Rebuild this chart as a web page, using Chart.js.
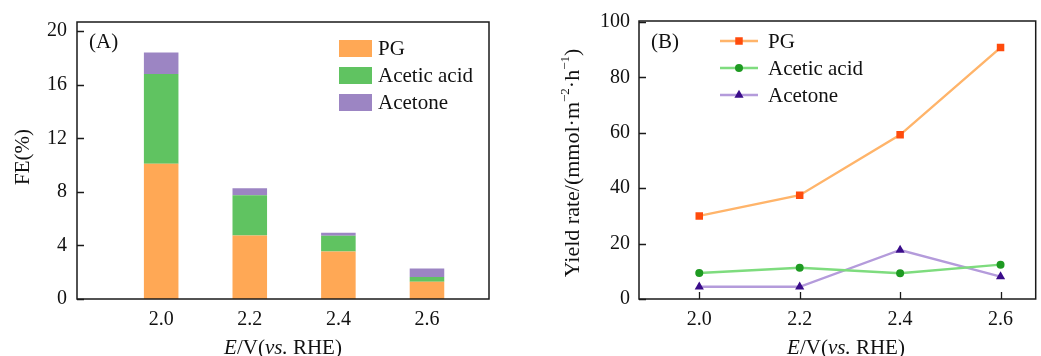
<!DOCTYPE html>
<html><head><meta charset="utf-8">
<script src="https://cdn.jsdelivr.net/npm/chart.js@4/dist/chart.umd.min.js"></script>
<style>
html,body{margin:0;padding:0;background:#fff;}
#wrap{position:relative;width:1041px;height:356px;overflow:hidden;background:#fff;}
#cA{position:absolute;left:0;top:0;}
#cB{position:absolute;left:520px;top:0;}
</style></head><body>
<div id="wrap"><canvas id="cA" width="520" height="356"></canvas><canvas id="cB" width="521" height="356"></canvas></div>
<script>
// ---- data ----
const potentials = [2.0, 2.2, 2.4, 2.6];
const xTickLabels = ['2.0', '2.2', '2.4', '2.6'];
const seriesNames = ['PG', 'Acetic acid', 'Acetone'];
const fePG = [10.1, 4.74, 3.55, 1.28];
const feAcetic = [6.7, 3.0, 1.17, 0.37];
const feAcetone = [1.6, 0.52, 0.22, 0.62];
const feTicks = [0, 4, 8, 12, 16, 20];
const ratePG = [30.0, 37.5, 59.3, 90.8];
const rateAcetic = [9.4, 11.3, 9.3, 12.4];
const rateAcetone = [4.4, 4.4, 17.7, 8.1];
const rateTicks = [0, 20, 40, 60, 80, 100];

// ---- helpers ----
const SERIF = '"Liberation Serif", "Times New Roman", serif';
const f = (sz, st) => (st ? st + ' ' : '') + sz + 'px ' + SERIF;
const INK = '#1a1a1a';
const TICK_SIZE = 20;

function drawRich(ctx, segs, x, y) {
  let w = 0;
  segs.forEach(s => { ctx.font = s.font; s.w = ctx.measureText(s.t).width; w += s.w; });
  let cx = x - w / 2;
  ctx.textAlign = 'left'; ctx.textBaseline = 'alphabetic';
  segs.forEach(s => { ctx.font = s.font; ctx.fillText(s.t, cx, y + (s.dy || 0)); cx += s.w; });
}
function pts(vals) { return potentials.map((x, i) => ({ x: x, y: vals[i] })); }
function fixedTicks(arr) { return scale => { scale.ticks = arr.map(v => ({ value: v })); }; }

function drawMarker(ctx, style, r, x, y, color) {
  ctx.save(); ctx.fillStyle = color; ctx.beginPath();
  if (style === 'rect') { const s = Math.SQRT1_2 * r; ctx.rect(x - s, y - s, 2 * s, 2 * s); }
  else if (style === 'triangle') {
    ctx.moveTo(x, y - r);
    ctx.lineTo(x + Math.sin(2 * Math.PI / 3) * r, y - Math.cos(2 * Math.PI / 3) * r);
    ctx.lineTo(x + Math.sin(4 * Math.PI / 3) * r, y - Math.cos(4 * Math.PI / 3) * r);
    ctx.closePath();
  } else { ctx.arc(x, y, r, 0, Math.PI * 2); }
  ctx.fill(); ctx.restore();
}

function framePlugin(cfg) {
  return {
    id: 'frame',
    beforeDatasetsDraw(chart) {
      const ctx = chart.ctx, a = chart.chartArea;
      ctx.save(); ctx.strokeStyle = INK; ctx.lineWidth = 1.3;
      const xs = chart.scales.x, ys = chart.scales.y;
      ctx.beginPath();
      xs.ticks.forEach(t => { const px = Math.round(xs.getPixelForValue(t.value)) + 0.5; ctx.moveTo(px, a.bottom); ctx.lineTo(px, a.bottom - 7); });
      ys.ticks.forEach(t => { const py = Math.round(ys.getPixelForValue(t.value)) + 0.5; ctx.moveTo(a.left, py); ctx.lineTo(a.left + 7, py); });
      ctx.stroke(); ctx.restore();
    },
    afterDraw(chart) {
      const ctx = chart.ctx, a = chart.chartArea;
      ctx.save();
      ctx.strokeStyle = INK; ctx.lineWidth = 1.5;
      ctx.strokeRect(a.left, a.top, a.right - a.left, a.bottom - a.top);
      ctx.fillStyle = '#111';
      // panel label
      ctx.font = f(21); ctx.textAlign = 'left'; ctx.textBaseline = 'alphabetic';
      ctx.fillText(cfg.panel, cfg.panelX, cfg.panelY);
      // x title
      drawRich(ctx, [
        { t: 'E', font: f(21, 'italic') }, { t: '/V(', font: f(21) },
        { t: 'vs.', font: f(21, 'italic') }, { t: ' RHE)', font: f(21) }
      ], cfg.xTitleX, 354);
      // y title
      ctx.save(); ctx.translate(cfg.yTitleX, cfg.yTitleY); ctx.rotate(-Math.PI / 2);
      drawRich(ctx, cfg.yTitleSegs, 0, 0);
      ctx.restore();
      // legend
      cfg.legend(chart, ctx);
      ctx.restore();
    }
  };
}

Chart.defaults.font.family = SERIF;
Chart.defaults.color = '#111';

// ---- Panel A: stacked bars ----
const barColors = ['#FFA855', '#60C361', '#9C85C3'];
const feSeries = [fePG, feAcetic, feAcetone];
new Chart(document.getElementById('cA'), {
  type: 'bar',
  data: {
    datasets: seriesNames.map((n, i) => ({
      label: n, data: pts(feSeries[i]), backgroundColor: barColors[i], borderWidth: 0,
      barPercentage: 0.39, categoryPercentage: 1.0
    }))
  },
  options: {
    responsive: false, animation: false,
    layout: { padding: { left: 0, right: 31, top: 19, bottom: 0 } },
    plugins: { legend: { display: false }, tooltip: { enabled: false } },
    scales: {
      x: {
        type: 'linear', stacked: true, offset: false, min: 1.81, max: 2.74,
        afterBuildTicks: fixedTicks(potentials),
        afterFit: s => { s.height = 57; },
        grid: { display: false, drawTicks: false }, border: { display: false },
        ticks: { font: { size: TICK_SIZE }, padding: 9, color: '#111', maxRotation: 0,
          callback: (v) => xTickLabels[potentials.findIndex(p => Math.abs(p - v) < 1e-6)] }
      },
      y: {
        stacked: true, min: 0, max: 20.68,
        afterBuildTicks: fixedTicks(feTicks),
        afterFit: s => { s.width = 77; },
        grid: { display: false, drawTicks: false }, border: { display: false },
        ticks: { font: { size: TICK_SIZE }, padding: 10, color: '#111' }
      }
    }
  },
  plugins: [framePlugin({
    panel: '(A)', panelX: 89, panelY: 48, xTitleX: 283,
    yTitleX: 29, yTitleY: 157,
    yTitleSegs: [{ t: 'FE(%)', font: f(21) }],
    legend: (chart, ctx) => {
      chart.data.datasets.forEach((d, i) => {
        const y = 40 + 27 * i;
        ctx.fillStyle = d.backgroundColor; ctx.fillRect(339, y, 33, 17);
        ctx.fillStyle = '#111'; ctx.font = f(21); ctx.textAlign = 'left'; ctx.textBaseline = 'middle';
        ctx.fillText(d.label, 378, y + 9);
      });
    }
  })]
});

// ---- Panel B: lines ----
const lineColors = ['#FFB46A', '#7EDC7E', '#B49BDB'];
const markColors = ['#FF4B0C', '#1E9A22', '#3A0C8A'];
const markStyles = ['rect', 'circle', 'triangle'];
const markRadius = [5.3, 4, 5.3];
const rateSeries = [ratePG, rateAcetic, rateAcetone];
new Chart(document.getElementById('cB'), {
  type: 'line',
  data: {
    datasets: seriesNames.map((n, i) => ({
      label: n, data: pts(rateSeries[i]), borderColor: lineColors[i], borderWidth: 2.4,
      pointStyle: markStyles[i], pointRadius: markRadius[i], pointBackgroundColor: markColors[i],
      pointBorderWidth: 0, pointBorderColor: markColors[i], tension: 0, fill: false
    }))
  },
  options: {
    responsive: false, animation: false,
    layout: { padding: { left: 0, right: 2, top: 19, bottom: 0 } },
    plugins: { legend: { display: false }, tooltip: { enabled: false } },
    scales: {
      x: {
        type: 'linear', offset: false, min: 1.88, max: 2.67,
        afterBuildTicks: fixedTicks(potentials),
        afterFit: s => { s.height = 57; },
        grid: { display: false, drawTicks: false }, border: { display: false },
        ticks: { font: { size: TICK_SIZE }, padding: 9, color: '#111', maxRotation: 0,
          callback: (v) => xTickLabels[potentials.findIndex(p => Math.abs(p - v) < 1e-6)] }
      },
      y: {
        min: 0, max: 100.4,
        afterBuildTicks: fixedTicks(rateTicks),
        afterFit: s => { s.width = 119; },
        grid: { display: false, drawTicks: false }, border: { display: false },
        ticks: { font: { size: TICK_SIZE }, padding: 9, color: '#111' }
      }
    }
  },
  plugins: [framePlugin({
    panel: '(B)', panelX: 131, panelY: 48, xTitleX: 326,
    yTitleX: 59, yTitleY: 163,
    yTitleSegs: [
      { t: 'Yield rate/(mmol·m', font: f(22) }, { t: '−2', font: f(13), dy: -10 },
      { t: '·h', font: f(22) }, { t: '−1', font: f(13), dy: -10 }, { t: ')', font: f(22) }
    ],
    legend: (chart, ctx) => {
      chart.data.datasets.forEach((d, i) => {
        const y = 41 + 27 * i;
        ctx.strokeStyle = d.borderColor; ctx.lineWidth = 2.4;
        ctx.beginPath(); ctx.moveTo(200, y); ctx.lineTo(238, y); ctx.stroke();
        drawMarker(ctx, d.pointStyle, d.pointRadius, 219, y, d.pointBackgroundColor);
        ctx.fillStyle = '#111'; ctx.font = f(21); ctx.textAlign = 'left'; ctx.textBaseline = 'middle';
        ctx.fillText(d.label, 248, y + 1);
      });
    }
  })]
});
</script>
</body></html>
